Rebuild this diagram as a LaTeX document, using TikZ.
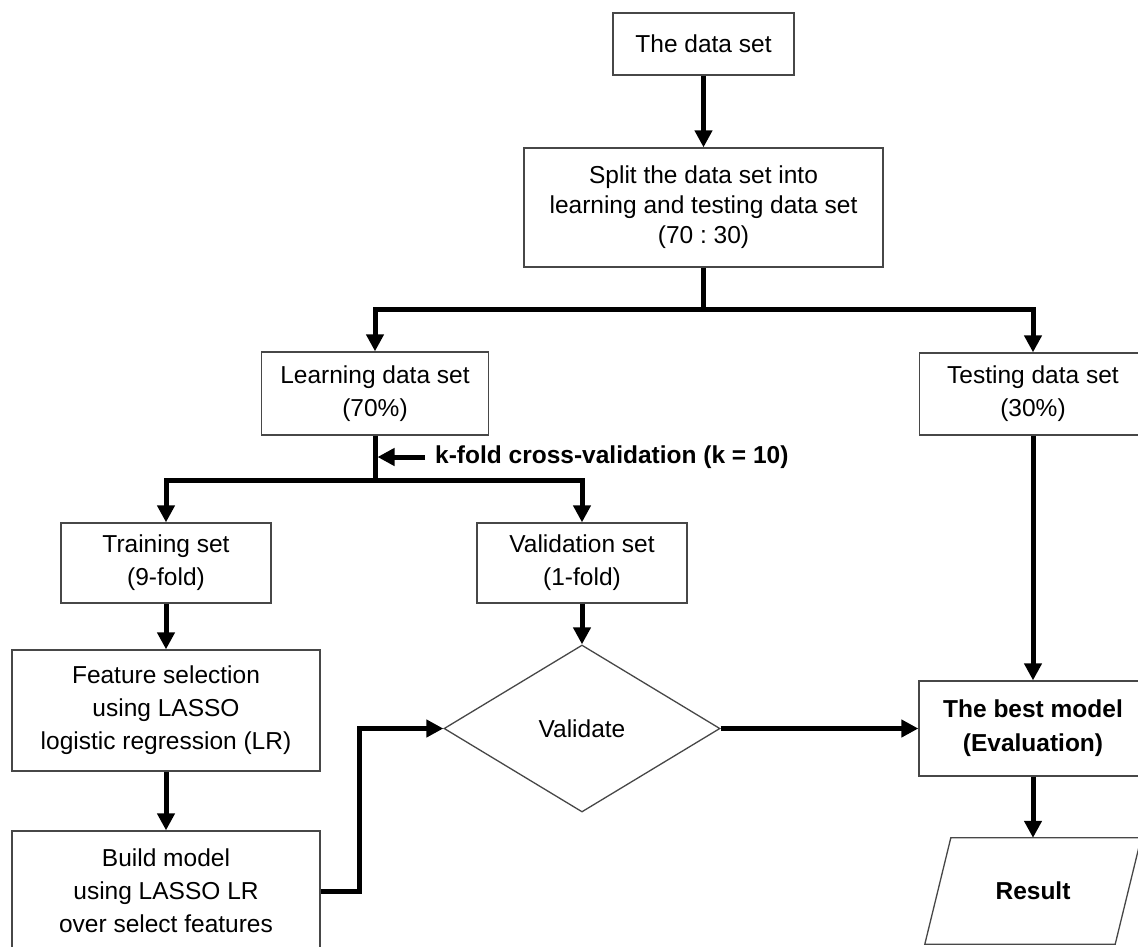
\documentclass[tikz,border=0pt]{standalone}
\usepackage{fontspec}
\setmainfont{Liberation Sans}
\frenchspacing
\usetikzlibrary{arrows.meta,shapes.geometric,calc}
\begin{document}
\begin{tikzpicture}[x=1pt,y=-1pt,
  box/.style={draw=black!72,line width=1.3pt,fill=white,rectangle,inner sep=0pt,align=center,
    font=\fontsize{24.5}{33}\selectfont},
  dec/.style={draw=black!72,line width=1.3pt,fill=white,diamond,inner sep=0pt,align=center,
    font=\fontsize{24.5}{33}\selectfont},
  lbl/.style={inner sep=0pt,align=center,font=\fontsize{24.5}{33}\selectfont\bfseries},
  link/.style={line width=5pt,black},
  arr/.style={link,-{Triangle[length=17pt,width=17pt]}}
]
\useasboundingbox (0,0) rectangle (1138,946);
\clip (0,0) rectangle (1138,946);
\fill[white] (0,0) rectangle (1138,946);

% nodes
\node[box,minimum width=181pt,minimum height=62pt] (data) at (703.5,44) {The data set};
\node[box,minimum width=359pt,minimum height=119pt,font=\fontsize{24.5}{30}\selectfont] (split) at (703.5,207.5)
  {Split the data set into\\learning and testing data set\\(70 : 30)};
\node[box,minimum width=227pt,minimum height=83pt] (learn) at (375,393.5) {Learning data set\\(70\%)};
\node[box,minimum width=227pt,minimum height=82pt] (test) at (1033,394) {Testing data set\\(30\%)};
\node[box,minimum width=210pt,minimum height=80pt] (train) at (166,563) {Training set\\(9-fold)};
\node[box,minimum width=210pt,minimum height=80pt] (valid) at (582,563) {Validation set\\(1-fold)};
\node[box,minimum width=308pt,minimum height=121pt] (feat) at (166,710.5)
  {Feature selection\\using LASSO\\logistic regression (LR)};
\node[box,minimum width=308pt,minimum height=120pt] (build) at (166,891)
  {Build model\\using LASSO LR\\over select features};
\node[dec,minimum width=276pt,minimum height=167pt] (val) at (582,728.5) {Validate};
\node[box,minimum width=228pt,minimum height=95pt,font=\fontsize{24.5}{34}\selectfont\bfseries] (best) at (1033,728.5)
  {The best model\\(Evaluation)};
\node[inner sep=0pt,minimum width=190pt,minimum height=106pt,font=\fontsize{24.5}{33}\selectfont\bfseries] (result) at (1033,891) {};
\draw[draw=black!72,line width=1.3pt,fill=white]
  ($(result.north west)+(13,0)$) -- ($(result.north east)+(13,0)$) --
  ($(result.south east)+(-13,0)$) -- ($(result.south west)+(-13,0)$) -- cycle;
\node[lbl] at (result.center) {Result};

\node[lbl,anchor=west] (kf) at (435,457) {k-fold cross-validation (k = 10)};

% junction coordinates
\coordinate (s1) at (703.5,309);
\coordinate (b1) at (375,480);
\coordinate (kt) at (377.5,457);

% connectors
\draw[arr] (data.south) -- (split.north);
\draw[link] (split.south) -- (s1);
\draw[arr] (s1) -| (learn.north);
\draw[arr] (s1) -| (test.north);
\draw[link] (learn.south) -- (b1);
\draw[arr] (b1) -| (train.north);
\draw[arr] (b1) -| (valid.north);
\draw[arr] ([xshift=-10pt]kf.west) -- (kt);
\draw[arr] (train.south) -- (feat.north);
\draw[arr] (feat.south) -- (build.north);
\draw[arr] (build.east) -- ++(39,0) |- (val.west);
\draw[arr] (valid.south) -- (val.north);
\draw[arr] (val.east) -- (best.west);
\draw[arr] (test.south) -- (best.north);
\draw[arr] (best.south) -- (result.north);
\end{tikzpicture}
\end{document}
